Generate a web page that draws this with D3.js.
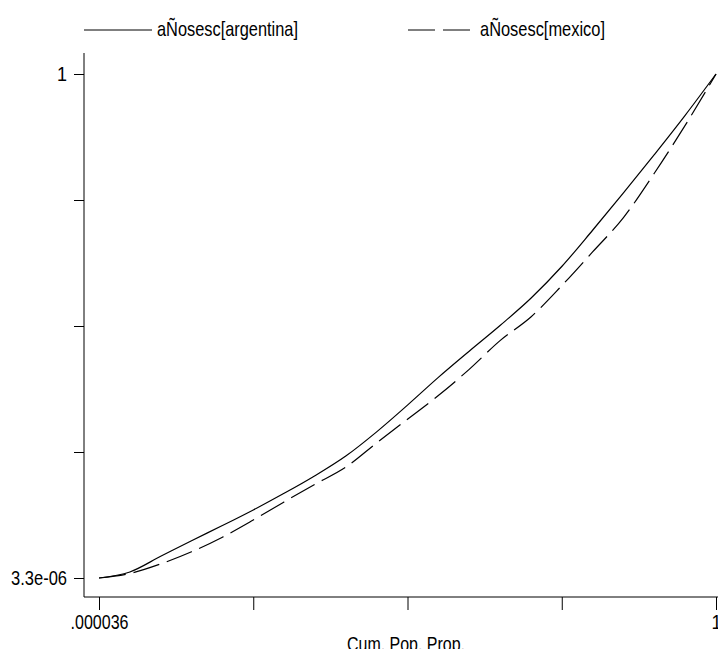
<!DOCTYPE html>
<html>
<head>
<meta charset="utf-8">
<script src="https://cdn.jsdelivr.net/npm/d3@7"></script>
<style>
  html, body { margin: 0; padding: 0; background: #fff; }
  svg { display: block; }
  text { font-family: "Liberation Sans", Arial, Helvetica, sans-serif; fill: #000; }
</style>
</head>
<body>
<svg id="chart" width="718" height="649"></svg>
<script>
// Data (Lorenz curves)
const seriesNames = ["aÑosesc[argentina]", "aÑosesc[mexico]"];
const popX = [0, 0.05, 0.10, 0.15, 0.20, 0.25, 0.30, 0.35, 0.40, 0.45, 0.50, 0.55, 0.60, 0.65, 0.70, 0.75, 0.80, 0.85, 0.90, 0.95, 1];
const argentinaY = [0, 0.012, 0.043, 0.074, 0.104, 0.135, 0.168, 0.203, 0.242, 0.290, 0.343, 0.398, 0.450, 0.501, 0.555, 0.618, 0.690, 0.764, 0.840, 0.918, 1];
const mexicoY = [0, 0.009, 0.028, 0.052, 0.081, 0.115, 0.151, 0.186, 0.220, 0.268, 0.315, 0.362, 0.414, 0.471, 0.518, 0.580, 0.647, 0.715, 0.803, 0.898, 1];
const xTickValues = [0, 0.25, 0.5, 0.75, 1];
const xTickLabels = [".000036", "", "", "", "1"];
const yTickValues = [0, 0.25, 0.5, 0.75, 1];
const yTickLabels = ["3.3e-06", "", "", "", "1"];
const xTitle = "Cum. Pop. Prop.";

const svg = d3.select("#chart");
const x = d3.scaleLinear().domain([0, 1]).range([99, 716]);
const y = d3.scaleLinear().domain([0, 1]).range([578, 74]);
const axisX0 = 84, axisY0 = 597;
const FS = "21px";

// fit narrow (condensed) text widths like the reference
function narrow(sel, widths) {
  sel.each(function(d, i) {
    const t = d3.select(this);
    const w = typeof widths === "function" ? widths(d, i, this) : widths;
    if (w) t.attr("textLength", w).attr("lengthAdjust", "spacingAndGlyphs");
  });
}

// X axis
const xAxis = d3.axisBottom(x).tickValues(xTickValues)
  .tickFormat((d, i) => xTickLabels[i]).tickSize(13).tickPadding(4);
const gx = svg.append("g").attr("transform", `translate(0,${axisY0})`).call(xAxis);
gx.select(".domain").remove();
gx.selectAll("line").attr("stroke", "#000");
gx.selectAll("text").style("font-size", FS).attr("fill", "#000")
  .call(narrow, (d, i) => xTickLabels[i] === ".000036" ? 58 : (xTickLabels[i] ? 10 : 0));
svg.append("line").attr("x1", axisX0).attr("x2", 718).attr("y1", axisY0).attr("y2", axisY0)
  .attr("stroke", "#000").attr("stroke-width", 1);

// Y axis
const yAxis = d3.axisLeft(y).tickValues(yTickValues)
  .tickFormat((d, i) => yTickLabels[i]).tickSize(10).tickPadding(7);
const gy = svg.append("g").attr("transform", `translate(${axisX0},0)`).call(yAxis);
gy.select(".domain").remove();
gy.selectAll("line").attr("stroke", "#000");
gy.selectAll("text").style("font-size", FS).attr("fill", "#000")
  .call(narrow, (d, i) => yTickLabels[i] === "3.3e-06" ? 56 : (yTickLabels[i] ? 10 : 0));
svg.append("line").attr("x1", axisX0).attr("x2", axisX0).attr("y1", 53).attr("y2", axisY0)
  .attr("stroke", "#000").attr("stroke-width", 1);

// X title
svg.append("text").attr("x", 406).attr("y", 651).attr("text-anchor", "middle")
  .style("font-size", FS).text(xTitle).call(narrow, 118);

// Lines
const line = d3.line().x(d => x(d[0])).y(d => y(d[1])).curve(d3.curveMonotoneX);
const argData = popX.map((v, i) => [v, argentinaY[i]]);
const mexData = popX.map((v, i) => [v, mexicoY[i]]);
svg.append("path").datum(argData).attr("d", line).attr("fill", "none")
  .attr("stroke", "#000").attr("stroke-width", 1.2);
svg.append("path").datum(mexData).attr("d", line).attr("fill", "none")
  .attr("stroke", "#000").attr("stroke-width", 1.2).attr("stroke-dasharray", "27,8");

// Legend
const legend = svg.append("g");
legend.append("line").attr("x1", 84).attr("x2", 152).attr("y1", 30).attr("y2", 30)
  .attr("stroke", "#000").attr("stroke-width", 1);
legend.append("text").attr("x", 157).attr("y", 36).style("font-size", FS)
  .text(seriesNames[0]).call(narrow, 141);
legend.append("line").attr("x1", 408).attr("x2", 470).attr("y1", 30).attr("y2", 30)
  .attr("stroke", "#000").attr("stroke-width", 1).attr("stroke-dasharray", "27,8");
legend.append("text").attr("x", 480).attr("y", 36).style("font-size", FS)
  .text(seriesNames[1]).call(narrow, 125);
</script>
</body>
</html>
